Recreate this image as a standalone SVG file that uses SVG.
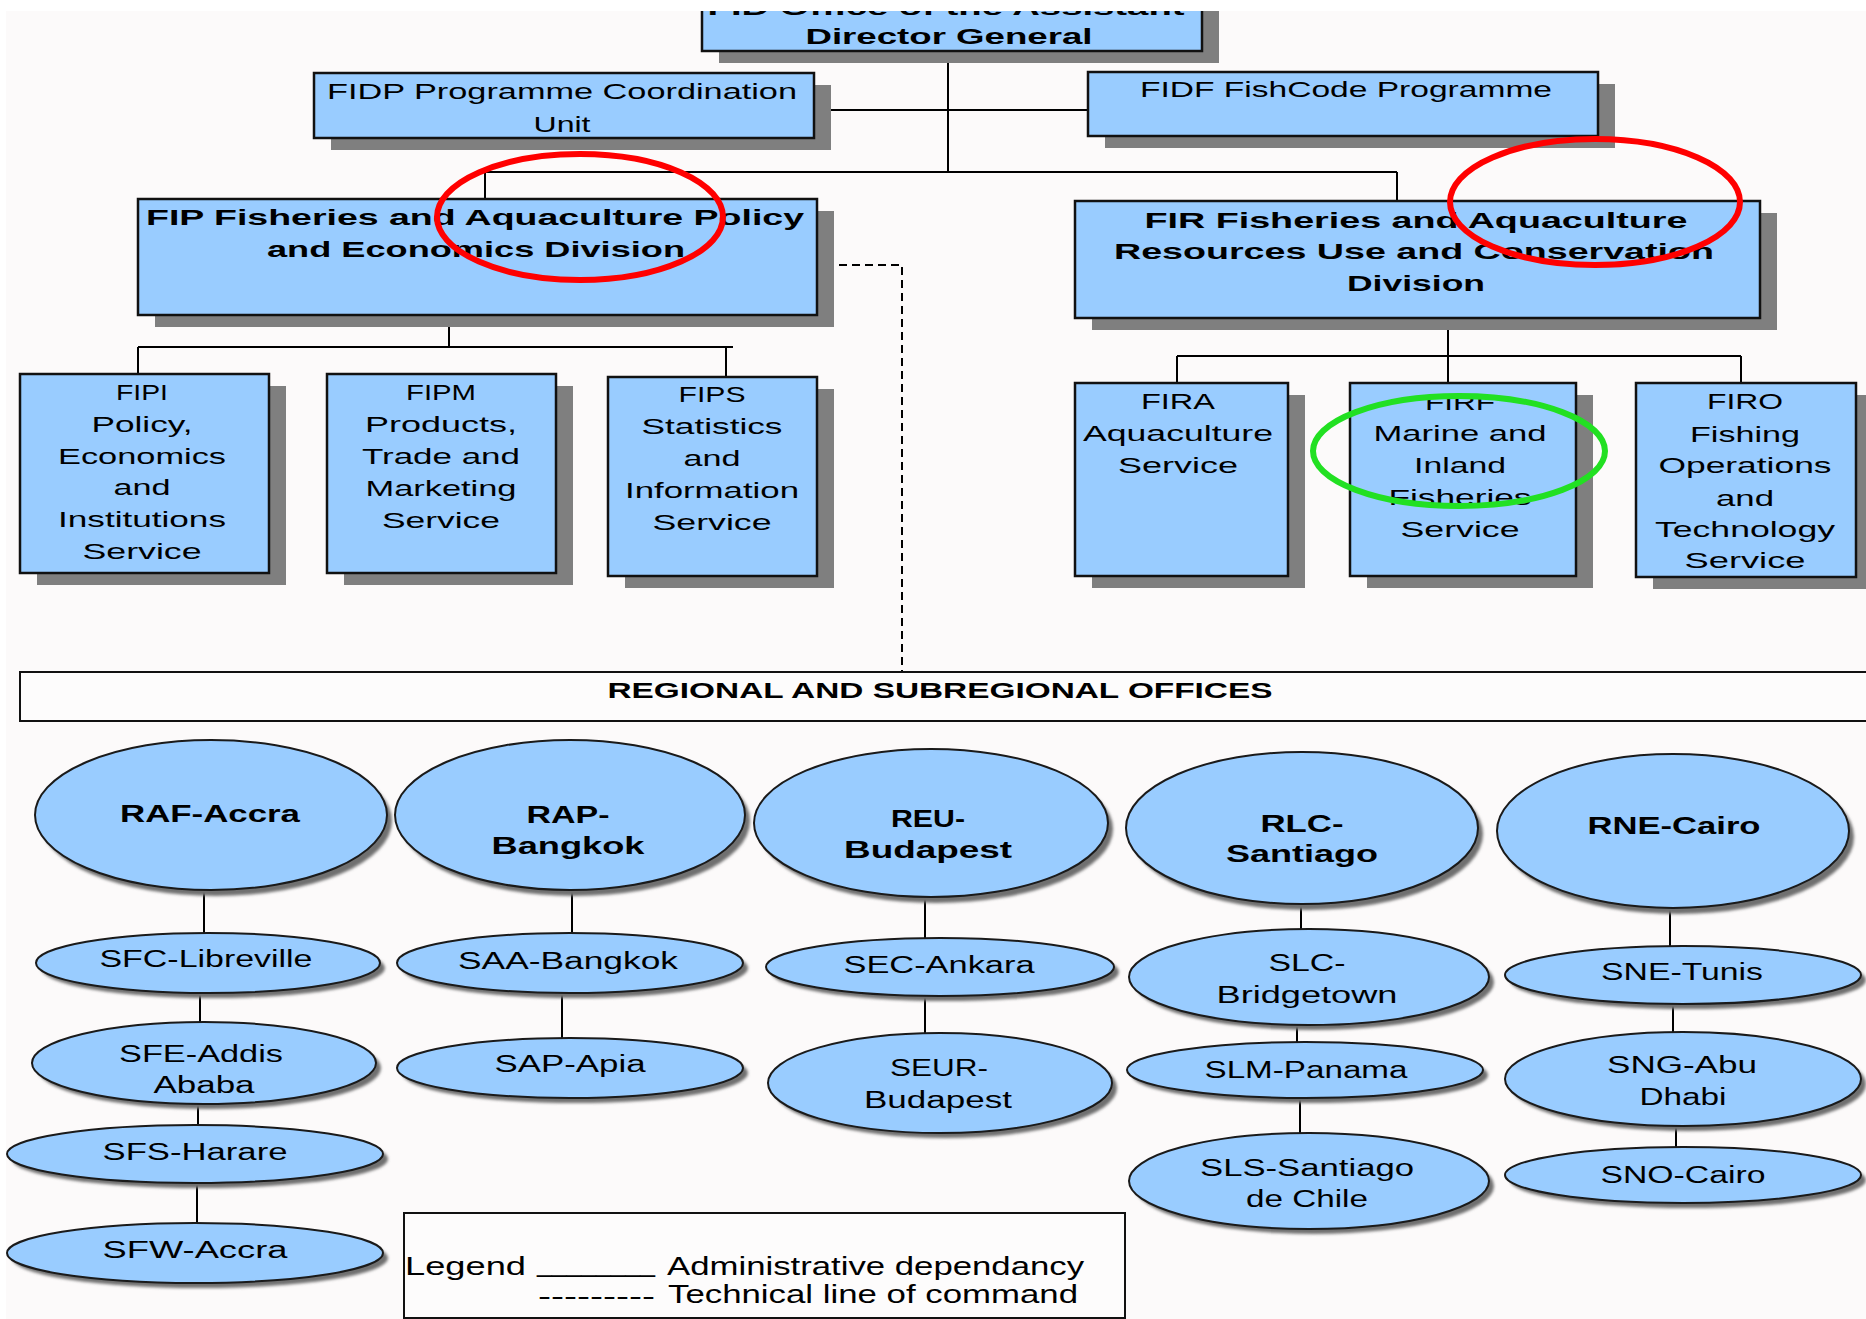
<svg xmlns="http://www.w3.org/2000/svg" width="1866" height="1319" viewBox="0 0 1866 1319">
<defs>
<style>
.box{fill:#99ccff;stroke:#111;stroke-width:2.5}
.sh{fill:#7f7f7f}
.ell{fill:#99ccff;stroke:#1a1a1a;stroke-width:2}
.esh{fill:#6f6f6f;filter:url(#blur)}
.t{font-family:"Liberation Sans",Arial,sans-serif;font-size:22px;fill:#000;text-anchor:middle}
.b{font-weight:bold}
.e{font-size:23px}
.lg{font-family:"Liberation Sans",Arial,sans-serif;font-size:25px;fill:#000}
.c{stroke:#000;stroke-width:2;fill:none}
.d{stroke:#000;stroke-width:2;fill:none;stroke-dasharray:8 5}
.frame{fill:#fdfcfc;stroke:#111;stroke-width:2}
.mark{fill:none;stroke-width:6}
</style>
<filter id="blur" x="-10%" y="-10%" width="120%" height="130%"><feGaussianBlur stdDeviation="1.5"/></filter>
<clipPath id="clip"><rect x="6" y="11" width="1860" height="1308"/></clipPath>
</defs>
<rect x="0" y="0" width="1866" height="1319" fill="#ffffff"/>
<g clip-path="url(#clip)">
<rect x="0" y="0" width="1866" height="1319" fill="#fcfafa"/>

<g id="connectors">
<line class="c" x1="948" y1="51" x2="948" y2="172"/>
<line class="c" x1="814" y1="110" x2="1088" y2="110"/>
<line class="c" x1="485" y1="172" x2="1397" y2="172"/>
<line class="c" x1="485" y1="172" x2="485" y2="199"/>
<line class="c" x1="1397" y1="172" x2="1397" y2="201"/>
<line class="c" x1="449" y1="315" x2="449" y2="347"/>
<line class="c" x1="138" y1="347" x2="733" y2="347"/>
<line class="c" x1="138" y1="347" x2="138" y2="374"/>
<line class="c" x1="726" y1="347" x2="726" y2="377"/>
<line class="c" x1="1448" y1="318" x2="1448" y2="383"/>
<line class="c" x1="1177" y1="356" x2="1741" y2="356"/>
<line class="c" x1="1177" y1="356" x2="1177" y2="383"/>
<line class="c" x1="1741" y1="356" x2="1741" y2="383"/>
<path class="d" d="M839 265 H902 V672"/>
<line class="c" x1="204" y1="890" x2="204" y2="933"/>
<line class="c" x1="200" y1="993" x2="200" y2="1022"/>
<line class="c" x1="198" y1="1104" x2="198" y2="1125"/>
<line class="c" x1="197" y1="1183" x2="197" y2="1223"/>
<line class="c" x1="572" y1="890" x2="572" y2="933"/>
<line class="c" x1="562" y1="993" x2="562" y2="1038"/>
<line class="c" x1="925" y1="897" x2="925" y2="938"/>
<line class="c" x1="925" y1="996" x2="925" y2="1033"/>
<line class="c" x1="1301" y1="904" x2="1301" y2="929"/>
<line class="c" x1="1297" y1="1025" x2="1297" y2="1042"/>
<line class="c" x1="1300" y1="1098" x2="1300" y2="1133"/>
<line class="c" x1="1670" y1="908" x2="1670" y2="946"/>
<line class="c" x1="1673" y1="1004" x2="1673" y2="1032"/>
<line class="c" x1="1676" y1="1126" x2="1676" y2="1147"/>
</g>

<g id="n-fid">
<rect class="sh" x="719" y="-8" width="500" height="71"/>
<rect class="box" x="702" y="-20" width="500" height="71"/>
<text class="t b" x="946" y="15" textLength="477" lengthAdjust="spacingAndGlyphs">FID  Office of the Assistant</text>
<text class="t b" x="949" y="44" textLength="287" lengthAdjust="spacingAndGlyphs">Director General</text>
</g>

<g id="n-fidp">
<rect class="sh" x="331" y="85" width="500" height="65"/>
<rect class="box" x="314" y="73" width="500" height="65"/>
<text class="t" x="562" y="99" textLength="470" lengthAdjust="spacingAndGlyphs">FIDP  Programme Coordination</text>
<text class="t" x="562" y="132" textLength="57" lengthAdjust="spacingAndGlyphs">Unit</text>
</g>

<g id="n-fidf">
<rect class="sh" x="1105" y="84" width="510" height="64"/>
<rect class="box" x="1088" y="72" width="510" height="64"/>
<text class="t" x="1346" y="97" textLength="412" lengthAdjust="spacingAndGlyphs">FIDF FishCode Programme</text>
</g>

<g id="n-fip">
<rect class="sh" x="155" y="211" width="679" height="116"/>
<rect class="box" x="138" y="199" width="679" height="116"/>
<text class="t b" x="475" y="225" textLength="658" lengthAdjust="spacingAndGlyphs">FIP  Fisheries and Aquaculture Policy</text>
<text class="t b" x="476" y="257" textLength="418" lengthAdjust="spacingAndGlyphs">and Economics Division</text>
</g>

<g id="n-fir">
<rect class="sh" x="1092" y="213" width="685" height="117"/>
<rect class="box" x="1075" y="201" width="685" height="117"/>
<text class="t b" x="1416" y="228" textLength="543" lengthAdjust="spacingAndGlyphs">FIR  Fisheries and Aquaculture</text>
<text class="t b" x="1414" y="259" textLength="600" lengthAdjust="spacingAndGlyphs">Resources Use and Conservation</text>
<text class="t b" x="1416" y="291" textLength="138" lengthAdjust="spacingAndGlyphs">Division</text>
</g>

<g id="n-fipi">
<rect class="sh" x="37" y="386" width="249" height="199"/>
<rect class="box" x="20" y="374" width="249" height="199"/>
<text class="t" x="142" y="400" textLength="52" lengthAdjust="spacingAndGlyphs">FIPI</text>
<text class="t" x="142" y="432" textLength="101" lengthAdjust="spacingAndGlyphs">Policy,</text>
<text class="t" x="142" y="464" textLength="168" lengthAdjust="spacingAndGlyphs">Economics</text>
<text class="t" x="142" y="495" textLength="57" lengthAdjust="spacingAndGlyphs">and</text>
<text class="t" x="142" y="527" textLength="168" lengthAdjust="spacingAndGlyphs">Institutions</text>
<text class="t" x="142" y="559" textLength="119" lengthAdjust="spacingAndGlyphs">Service</text>
</g>

<g id="n-fipm">
<rect class="sh" x="344" y="386" width="229" height="199"/>
<rect class="box" x="327" y="374" width="229" height="199"/>
<text class="t" x="441" y="400" textLength="70" lengthAdjust="spacingAndGlyphs">FIPM</text>
<text class="t" x="441" y="432" textLength="152" lengthAdjust="spacingAndGlyphs">Products,</text>
<text class="t" x="441" y="464" textLength="158" lengthAdjust="spacingAndGlyphs">Trade and</text>
<text class="t" x="441" y="496" textLength="151" lengthAdjust="spacingAndGlyphs">Marketing</text>
<text class="t" x="441" y="528" textLength="118" lengthAdjust="spacingAndGlyphs">Service</text>
</g>

<g id="n-fips">
<rect class="sh" x="625" y="389" width="209" height="199"/>
<rect class="box" x="608" y="377" width="209" height="199"/>
<text class="t" x="712" y="402" textLength="67" lengthAdjust="spacingAndGlyphs">FIPS</text>
<text class="t" x="712" y="434" textLength="141" lengthAdjust="spacingAndGlyphs">Statistics</text>
<text class="t" x="712" y="466" textLength="57" lengthAdjust="spacingAndGlyphs">and</text>
<text class="t" x="712" y="498" textLength="174" lengthAdjust="spacingAndGlyphs">Information</text>
<text class="t" x="712" y="530" textLength="119" lengthAdjust="spacingAndGlyphs">Service</text>
</g>

<g id="n-fira">
<rect class="sh" x="1092" y="395" width="213" height="193"/>
<rect class="box" x="1075" y="383" width="213" height="193"/>
<text class="t" x="1178" y="409" textLength="74" lengthAdjust="spacingAndGlyphs">FIRA</text>
<text class="t" x="1178" y="441" textLength="190" lengthAdjust="spacingAndGlyphs">Aquaculture</text>
<text class="t" x="1178" y="473" textLength="120" lengthAdjust="spacingAndGlyphs">Service</text>
</g>

<g id="n-firf">
<rect class="sh" x="1367" y="395" width="226" height="193"/>
<rect class="box" x="1350" y="383" width="226" height="193"/>
<text class="t" x="1460" y="410" textLength="70" lengthAdjust="spacingAndGlyphs">FIRF</text>
<text class="t" x="1460" y="441" textLength="173" lengthAdjust="spacingAndGlyphs">Marine and</text>
<text class="t" x="1460" y="473" textLength="92" lengthAdjust="spacingAndGlyphs">Inland</text>
<text class="t" x="1460" y="505" textLength="143" lengthAdjust="spacingAndGlyphs">Fisheries</text>
<text class="t" x="1460" y="537" textLength="119" lengthAdjust="spacingAndGlyphs">Service</text>
</g>

<g id="n-firo">
<rect class="sh" x="1653" y="395" width="220" height="194"/>
<rect class="box" x="1636" y="383" width="220" height="194"/>
<text class="t" x="1745" y="409" textLength="76" lengthAdjust="spacingAndGlyphs">FIRO</text>
<text class="t" x="1745" y="442" textLength="110" lengthAdjust="spacingAndGlyphs">Fishing</text>
<text class="t" x="1745" y="473" textLength="173" lengthAdjust="spacingAndGlyphs">Operations</text>
<text class="t" x="1745" y="506" textLength="58" lengthAdjust="spacingAndGlyphs">and</text>
<text class="t" x="1745" y="537" textLength="180" lengthAdjust="spacingAndGlyphs">Technology</text>
<text class="t" x="1745" y="568" textLength="121" lengthAdjust="spacingAndGlyphs">Service</text>
</g>

<g id="n-regional">
<rect class="frame" x="20" y="672" width="1870" height="49"/>
<text class="t b" x="940" y="698" textLength="665" lengthAdjust="spacingAndGlyphs">REGIONAL AND SUBREGIONAL OFFICES</text>
</g>

<g id="n-raf">
<ellipse class="esh" cx="216" cy="821" rx="176" ry="75"/>
<ellipse class="ell" cx="211" cy="815" rx="176" ry="75"/>
<text class="t e b" x="210" y="822" textLength="180" lengthAdjust="spacingAndGlyphs">RAF-Accra</text>
</g>
<g id="n-rap">
<ellipse class="esh" cx="575" cy="821" rx="175" ry="75"/>
<ellipse class="ell" cx="570" cy="815" rx="175" ry="75"/>
<text class="t e b" x="568" y="823" textLength="83" lengthAdjust="spacingAndGlyphs">RAP-</text>
<text class="t e b" x="568" y="854" textLength="153" lengthAdjust="spacingAndGlyphs">Bangkok</text>
</g>
<g id="n-reu">
<ellipse class="esh" cx="936" cy="829" rx="177" ry="74"/>
<ellipse class="ell" cx="931" cy="823" rx="177" ry="74"/>
<text class="t e b" x="928" y="827" textLength="74" lengthAdjust="spacingAndGlyphs">REU-</text>
<text class="t e b" x="928" y="858" textLength="168" lengthAdjust="spacingAndGlyphs">Budapest</text>
</g>
<g id="n-rlc">
<ellipse class="esh" cx="1307" cy="834" rx="176" ry="76"/>
<ellipse class="ell" cx="1302" cy="828" rx="176" ry="76"/>
<text class="t e b" x="1302" y="832" textLength="83" lengthAdjust="spacingAndGlyphs">RLC-</text>
<text class="t e b" x="1302" y="862" textLength="152" lengthAdjust="spacingAndGlyphs">Santiago</text>
</g>
<g id="n-rne">
<ellipse class="esh" cx="1678" cy="837" rx="176" ry="77"/>
<ellipse class="ell" cx="1673" cy="831" rx="176" ry="77"/>
<text class="t e b" x="1674" y="834" textLength="173" lengthAdjust="spacingAndGlyphs">RNE-Cairo</text>
</g>

<g id="n-sfc">
<ellipse class="esh" cx="213" cy="968" rx="172" ry="30"/>
<ellipse class="ell" cx="208" cy="963" rx="172" ry="30"/>
<text class="t e" x="206" y="967" textLength="213" lengthAdjust="spacingAndGlyphs">SFC-Libreville</text>
</g>
<g id="n-sfe">
<ellipse class="esh" cx="209" cy="1068" rx="172" ry="41"/>
<ellipse class="ell" cx="204" cy="1063" rx="172" ry="41"/>
<text class="t e" x="201" y="1062" textLength="164" lengthAdjust="spacingAndGlyphs">SFE-Addis</text>
<text class="t e" x="204" y="1093" textLength="101" lengthAdjust="spacingAndGlyphs">Ababa</text>
</g>
<g id="n-sfs">
<ellipse class="esh" cx="200" cy="1159" rx="188" ry="29"/>
<ellipse class="ell" cx="195" cy="1154" rx="188" ry="29"/>
<text class="t e" x="195" y="1160" textLength="185" lengthAdjust="spacingAndGlyphs">SFS-Harare</text>
</g>
<g id="n-sfw">
<ellipse class="esh" cx="200" cy="1258" rx="188" ry="30"/>
<ellipse class="ell" cx="195" cy="1253" rx="188" ry="30"/>
<text class="t e" x="195" y="1258" textLength="185" lengthAdjust="spacingAndGlyphs">SFW-Accra</text>
</g>
<g id="n-saa">
<ellipse class="esh" cx="575" cy="968" rx="173" ry="30"/>
<ellipse class="ell" cx="570" cy="963" rx="173" ry="30"/>
<text class="t e" x="568" y="969" textLength="220" lengthAdjust="spacingAndGlyphs">SAA-Bangkok</text>
</g>
<g id="n-sap">
<ellipse class="esh" cx="575" cy="1073" rx="173" ry="30"/>
<ellipse class="ell" cx="570" cy="1068" rx="173" ry="30"/>
<text class="t e" x="570" y="1072" textLength="151" lengthAdjust="spacingAndGlyphs">SAP-Apia</text>
</g>
<g id="n-sec">
<ellipse class="esh" cx="945" cy="972" rx="174" ry="29"/>
<ellipse class="ell" cx="940" cy="967" rx="174" ry="29"/>
<text class="t e" x="939" y="973" textLength="191" lengthAdjust="spacingAndGlyphs">SEC-Ankara</text>
</g>
<g id="n-seur">
<ellipse class="esh" cx="945" cy="1088" rx="172" ry="50"/>
<ellipse class="ell" cx="940" cy="1083" rx="172" ry="50"/>
<text class="t e" x="939" y="1076" textLength="98" lengthAdjust="spacingAndGlyphs">SEUR-</text>
<text class="t e" x="938" y="1108" textLength="148" lengthAdjust="spacingAndGlyphs">Budapest</text>
</g>
<g id="n-slc">
<ellipse class="esh" cx="1314" cy="982" rx="180" ry="48"/>
<ellipse class="ell" cx="1309" cy="977" rx="180" ry="48"/>
<text class="t e" x="1307" y="971" textLength="77" lengthAdjust="spacingAndGlyphs">SLC-</text>
<text class="t e" x="1307" y="1003" textLength="181" lengthAdjust="spacingAndGlyphs">Bridgetown</text>
</g>
<g id="n-slm">
<ellipse class="esh" cx="1310" cy="1075" rx="178" ry="28"/>
<ellipse class="ell" cx="1305" cy="1070" rx="178" ry="28"/>
<text class="t e" x="1306" y="1078" textLength="203" lengthAdjust="spacingAndGlyphs">SLM-Panama</text>
</g>
<g id="n-sls">
<ellipse class="esh" cx="1314" cy="1186" rx="180" ry="48"/>
<ellipse class="ell" cx="1309" cy="1181" rx="180" ry="48"/>
<text class="t e" x="1307" y="1176" textLength="214" lengthAdjust="spacingAndGlyphs">SLS-Santiago</text>
<text class="t e" x="1307" y="1207" textLength="122" lengthAdjust="spacingAndGlyphs">de Chile</text>
</g>
<g id="n-sne">
<ellipse class="esh" cx="1688" cy="980" rx="178" ry="29"/>
<ellipse class="ell" cx="1683" cy="975" rx="178" ry="29"/>
<text class="t e" x="1682" y="980" textLength="162" lengthAdjust="spacingAndGlyphs">SNE-Tunis</text>
</g>
<g id="n-sng">
<ellipse class="esh" cx="1688" cy="1084" rx="178" ry="47"/>
<ellipse class="ell" cx="1683" cy="1079" rx="178" ry="47"/>
<text class="t e" x="1682" y="1073" textLength="150" lengthAdjust="spacingAndGlyphs">SNG-Abu</text>
<text class="t e" x="1683" y="1105" textLength="87" lengthAdjust="spacingAndGlyphs">Dhabi</text>
</g>
<g id="n-sno">
<ellipse class="esh" cx="1688" cy="1180" rx="178" ry="28"/>
<ellipse class="ell" cx="1683" cy="1175" rx="178" ry="28"/>
<text class="t e" x="1683" y="1183" textLength="165" lengthAdjust="spacingAndGlyphs">SNO-Cairo</text>
</g>

<g id="legend">
<rect class="frame" x="404" y="1213" width="721" height="105"/>
<text class="lg" x="405" y="1275" textLength="121" lengthAdjust="spacingAndGlyphs">Legend</text>
<text class="lg" x="537" y="1272" textLength="118" lengthAdjust="spacingAndGlyphs">________</text>
<text class="lg" x="667" y="1275" textLength="417" lengthAdjust="spacingAndGlyphs">Administrative dependancy</text>
<text class="lg" x="538" y="1305" textLength="117" lengthAdjust="spacingAndGlyphs">---------</text>
<text class="lg" x="668" y="1303" textLength="410" lengthAdjust="spacingAndGlyphs">Technical line of command</text>
</g>

<g id="highlights">
<ellipse class="mark" cx="580" cy="217" rx="143" ry="63" stroke="#ff0000"/>
<ellipse class="mark" cx="1595" cy="202" rx="145" ry="63" stroke="#ff0000"/>
<ellipse class="mark" cx="1459" cy="451" rx="146" ry="55" stroke="#22e022"/>
</g>
</g>
</svg>
